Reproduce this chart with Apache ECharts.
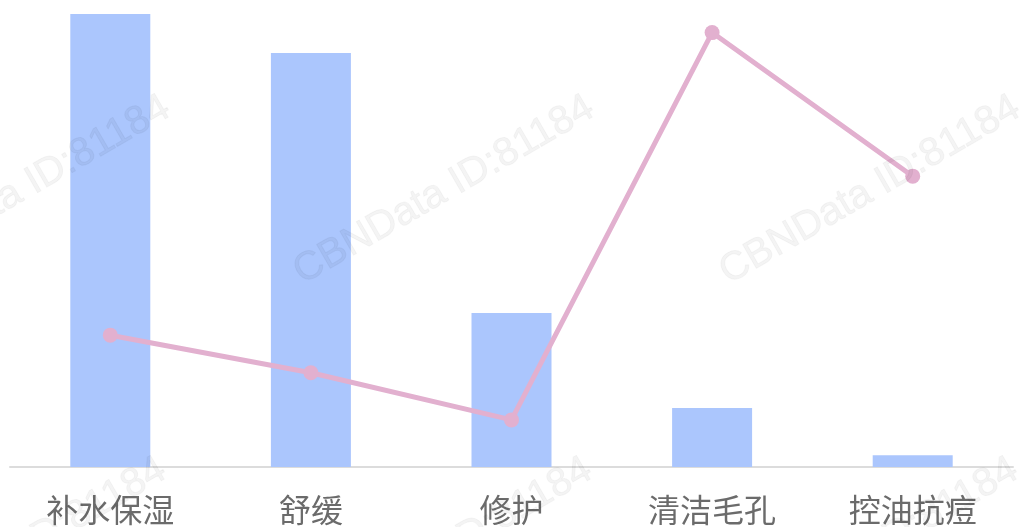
<!DOCTYPE html>
<html>
<head>
<meta charset="utf-8">
<script src="https://cdn.jsdelivr.net/npm/echarts@6/dist/echarts.min.js"></script>
<style>
  html, body { margin:0; padding:0; background:#fff; }
  #chart { width:1027px; height:527px; }
</style>
</head>
<body>
<div id="chart"></div>
<script>
// ======== データ ========
const categories = ['补水保湿','舒缓','修护','清洁毛孔','控油抗痘'];
const barValues  = [100, 91.4, 34.0, 13.0, 2.6];
const lineValues = [29.1, 20.8, 10.4, 95.9, 64.2];
const watermark  = 'CBNData ID:81184';

// 透かし（前面、半透明）
const wmCenters = [[20,190],[444,190],[870,190],[16,552],[442,552],[868,552]];
function wmText(c){
  return {
    type:'text', x:c[0], y:c[1], rotation:Math.PI/6, z:100,
    style:{ text:watermark, x:0, y:0, align:'center', verticalAlign:'middle',
      font:'40px "Liberation Sans", Arial, sans-serif',
      fill:'rgba(0,0,0,0.045)', stroke:'rgba(0,0,0,0.045)', lineWidth:1 }
  };
}

const chart = echarts.init(document.getElementById('chart'));
chart.setOption({
  animation:false,
  graphic: wmCenters.map(wmText),
  grid:{ left:10, right:14, top:14, bottom:60 },
  xAxis:{ type:'category', data:categories,
    axisLine:{ lineStyle:{ color:'#dcdcdc', width:2 } },
    axisTick:{ show:false },
    axisLabel:{ fontSize:32, color:'#6b6b6b', margin:27, interval:0,
      fontFamily:'"Noto Sans CJK SC", sans-serif' } },
  yAxis:[
    { type:'value', min:0, max:100, show:false, splitLine:{ show:false } },
    { type:'value', min:0, max:100, show:false, splitLine:{ show:false } }
  ],
  series:[
    { type:'bar', data:barValues, barWidth:80, itemStyle:{ color:'#abc6fd' }, z:2 },
    { type:'line', yAxisIndex:1, data:lineValues, symbol:'circle', symbolSize:15,
      itemStyle:{ color:'#e2b0cf' }, lineStyle:{ color:'#e2b0cf', width:5 }, z:3 }
  ]
});
</script>
</body>
</html>
